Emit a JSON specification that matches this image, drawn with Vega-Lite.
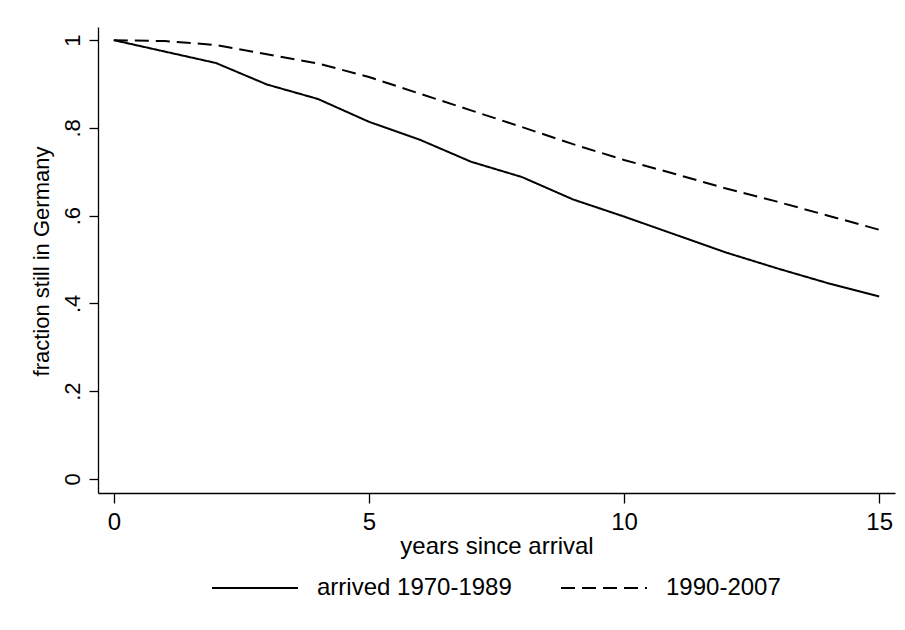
{
  "$schema": "https://vega.github.io/schema/vega-lite/v6.json",
  "width": 797,
  "height": 466,
  "autosize": {"type": "none"},
  "padding": {"left": 98, "top": 27, "right": 10, "bottom": 137},
  "background": "white",
  "config": {
    "view": {"stroke": null},
    "axis": {
      "grid": false,
      "domainColor": "#000000",
      "tickColor": "#000000",
      "labelColor": "#000000",
      "titleColor": "#000000",
      "domainWidth": 1.3,
      "tickWidth": 1.3,
      "labelFont": "Liberation Sans",
      "titleFont": "Liberation Sans",
      "titleFontWeight": "normal",
      "labelFlush": false,
      "labelOverlap": false
    },
    "legend": {
      "labelFont": "Liberation Sans",
      "labelColor": "#000000"
    }
  },
  "data": {
    "values": [
      {"year": 0, "fraction": 1.0, "cohort": "arrived 1970-1989"},
      {"year": 1, "fraction": 0.974, "cohort": "arrived 1970-1989"},
      {"year": 2, "fraction": 0.948, "cohort": "arrived 1970-1989"},
      {"year": 3, "fraction": 0.899, "cohort": "arrived 1970-1989"},
      {"year": 4, "fraction": 0.866, "cohort": "arrived 1970-1989"},
      {"year": 5, "fraction": 0.814, "cohort": "arrived 1970-1989"},
      {"year": 6, "fraction": 0.773, "cohort": "arrived 1970-1989"},
      {"year": 7, "fraction": 0.723, "cohort": "arrived 1970-1989"},
      {"year": 8, "fraction": 0.688, "cohort": "arrived 1970-1989"},
      {"year": 9, "fraction": 0.637, "cohort": "arrived 1970-1989"},
      {"year": 10, "fraction": 0.598, "cohort": "arrived 1970-1989"},
      {"year": 11, "fraction": 0.557, "cohort": "arrived 1970-1989"},
      {"year": 12, "fraction": 0.516, "cohort": "arrived 1970-1989"},
      {"year": 13, "fraction": 0.48, "cohort": "arrived 1970-1989"},
      {"year": 14, "fraction": 0.446, "cohort": "arrived 1970-1989"},
      {"year": 15, "fraction": 0.416, "cohort": "arrived 1970-1989"},
      {"year": 0, "fraction": 1.0, "cohort": "1990-2007"},
      {"year": 1, "fraction": 0.998, "cohort": "1990-2007"},
      {"year": 2, "fraction": 0.989, "cohort": "1990-2007"},
      {"year": 3, "fraction": 0.968, "cohort": "1990-2007"},
      {"year": 4, "fraction": 0.947, "cohort": "1990-2007"},
      {"year": 5, "fraction": 0.916, "cohort": "1990-2007"},
      {"year": 6, "fraction": 0.878, "cohort": "1990-2007"},
      {"year": 7, "fraction": 0.84, "cohort": "1990-2007"},
      {"year": 8, "fraction": 0.802, "cohort": "1990-2007"},
      {"year": 9, "fraction": 0.763, "cohort": "1990-2007"},
      {"year": 10, "fraction": 0.727, "cohort": "1990-2007"},
      {"year": 11, "fraction": 0.695, "cohort": "1990-2007"},
      {"year": 12, "fraction": 0.662, "cohort": "1990-2007"},
      {"year": 13, "fraction": 0.632, "cohort": "1990-2007"},
      {"year": 14, "fraction": 0.6, "cohort": "1990-2007"},
      {"year": 15, "fraction": 0.568, "cohort": "1990-2007"}
    ]
  },
  "mark": {"type": "line", "color": "#000000", "strokeWidth": 2},
  "encoding": {
    "x": {
      "field": "year",
      "type": "quantitative",
      "scale": {"domain": [-0.31, 15.31], "nice": false, "zero": false},
      "axis": {
        "values": [0, 5, 10, 15],
        "title": "years since arrival",
        "labelFontSize": 24,
        "titleFontSize": 24,
        "tickSize": 10,
        "labelPadding": 7,
        "titlePadding": 0
      }
    },
    "y": {
      "field": "fraction",
      "type": "quantitative",
      "scale": {"domain": [-0.032, 1.03], "nice": false, "zero": false},
      "axis": {
        "values": [0, 0.2, 0.4, 0.6, 0.8, 1],
        "labelExpr": "datum.value == 0 ? '0' : datum.value == 1 ? '1' : replace(format(datum.value, '.1f'), '0.', '.')",
        "labelAngle": -90,
        "labelAlign": "center",
        "labelBaseline": "alphabetic",
        "labelFontSize": 22,
        "tickSize": 9,
        "labelPadding": 10,
        "title": "fraction still in Germany",
        "titleFontSize": 22,
        "titleAngle": -90,
        "titleAlign": "center",
        "titleBaseline": "alphabetic",
        "titleX": -50,
        "titleY": 234
      }
    },
    "strokeDash": {
      "field": "cohort",
      "type": "nominal",
      "scale": {"domain": ["arrived 1970-1989", "1990-2007"], "range": [[1, 0], [14, 7]]},
      "legend": {
        "title": null,
        "orient": "none",
        "direction": "horizontal",
        "legendX": 113,
        "legendY": 517,
        "padding": 0,
        "symbolType": "stroke",
        "symbolSize": 7396,
        "symbolStrokeColor": "#000000",
        "symbolStrokeWidth": 2,
        "labelFontSize": 24,
        "labelLimit": 0,
        "labelOffset": 18,
        "columnPadding": 45
      }
    }
  }
}
